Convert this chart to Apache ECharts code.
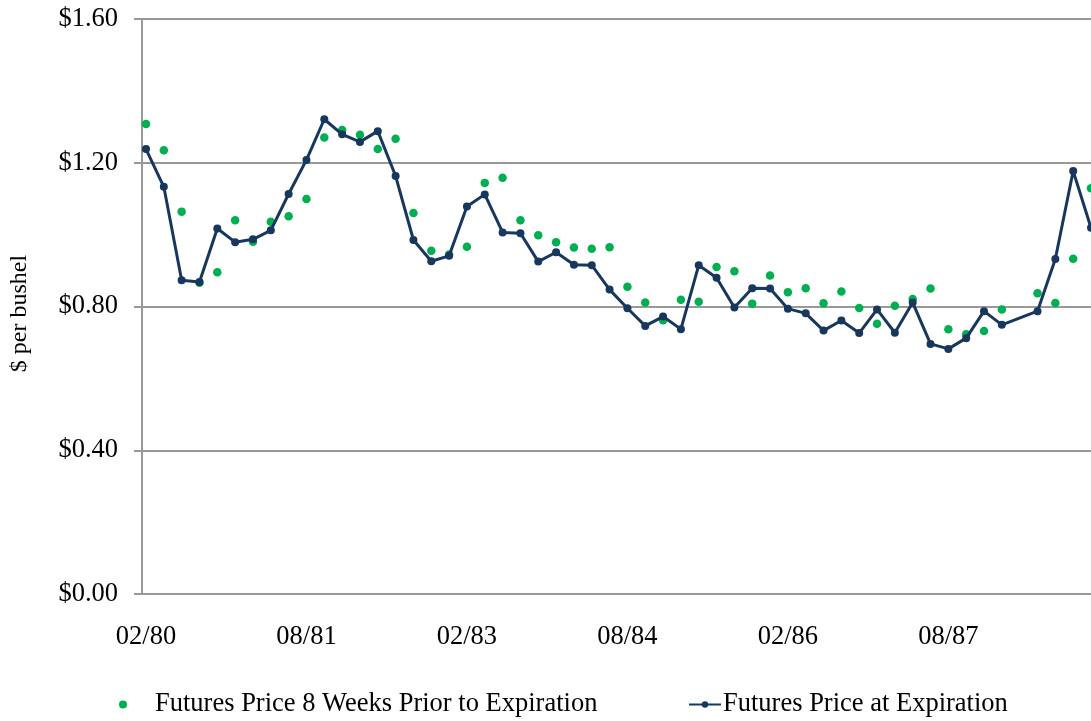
<!DOCTYPE html>
<html>
<head>
<meta charset="utf-8">
<script src="https://cdn.jsdelivr.net/npm/echarts@6/dist/echarts.min.js"></script>
<style>
  html, body { margin: 0; padding: 0; background: #fff; }
  #show_picture { width: 1091px; height: 721px; }
</style>
</head>
<body>
<div id="show_picture"></div>
<script>
// contract index (every 2 months from 02/80), tick labels shown every 9 contracts
const tickPositions = [0, 9, 18, 27, 36, 45];
const tickLabels = ['02/80', '08/81', '02/83', '08/84', '02/86', '08/87'];

const priorName = 'Futures Price 8 Weeks Prior to Expiration';
const expiryName = 'Futures Price at Expiration';

// $ per bushel, null = no contract
const priorPrice = [
    1.308, 1.235, 1.064, 0.866, 0.895, 1.040, 0.980, 1.036, 1.051, 1.099,
    1.270, 1.291, 1.278, 1.238, 1.267, 1.060, 0.955, 0.945, 0.966, 1.144,
    1.158, 1.040, 0.998, 0.979, 0.964, 0.961, 0.965, 0.855, 0.811, 0.762,
    0.819, 0.813, 0.910, 0.898, 0.808, 0.886, 0.840, 0.851, 0.809, 0.842,
    0.796, 0.752, 0.802, 0.821, 0.850, 0.737, 0.723, 0.732, 0.792, null,
    0.837, 0.810, 0.933, 1.129
];
const expiryPrice = [
    1.238, 1.133, 0.873, 0.868, 1.017, 0.979, 0.987, 1.012, 1.113, 1.208,
    1.321, 1.279, 1.258, 1.288, 1.163, 0.985, 0.926, 0.941, 1.078, 1.112,
    1.006, 1.004, 0.925, 0.951, 0.916, 0.915, 0.847, 0.795, 0.746, 0.772,
    0.737, 0.915, 0.880, 0.797, 0.851, 0.850, 0.794, 0.781, 0.733, 0.761,
    0.726, 0.792, 0.727, 0.811, 0.696, 0.682, 0.712, 0.787, 0.749, null,
    0.787, 0.932, 1.177, 1.019
];

const toPoints = arr => arr.map((v, i) => [i, v]).filter(p => p[1] !== null);

let myChart = echarts.init(document.getElementById('show_picture'));

const font = 'Liberation Serif';
const gray = '#999999';

let option = {
    animation: false,
    textStyle: { fontFamily: font, color: '#000' },
    grid: { left: 141, right: 0, top: 19, bottom: 127, containLabel: false },
    legend: [
        {
            data: [priorName],
            left: 119,
            top: 691,
            padding: 0,
            itemWidth: 8,
            itemHeight: 8,
            textStyle: { fontFamily: font, fontSize: 26.5, color: '#000', padding: [0, 0, 0, 23] }
        },
        {
            data: [expiryName],
            left: 688,
            top: 691,
            padding: 0,
            itemWidth: 32,
            itemHeight: 8,
            textStyle: { fontFamily: font, fontSize: 26.5, color: '#000', padding: [0, 0, 0, -3] }
        }
    ],
    xAxis: {
        type: 'value',
        min: -0.224,
        max: 53,
        splitLine: { show: false },
        axisLine: { show: true, onZero: false, lineStyle: { color: gray, width: 2 } },
        axisTick: { show: false },
        axisLabel: {
            customValues: tickPositions,
            formatter: v => tickLabels[tickPositions.indexOf(v)] || '',
            fontFamily: font,
            fontSize: 26.5,
            color: '#000',
            margin: 30
        }
    },
    yAxis: {
        type: 'value',
        min: 0,
        max: 1.6,
        interval: 0.4,
        name: '$ per bushel',
        nameLocation: 'middle',
        nameGap: 110,
        nameTextStyle: { fontFamily: font, fontSize: 24, color: '#000', padding: [0, 14, 0, 0] },
        axisLine: { show: true, onZero: false, lineStyle: { color: gray, width: 2 } },
        axisTick: { show: true, inside: false, length: 8, lineStyle: { color: gray, width: 2 } },
        splitLine: { show: true, lineStyle: { color: gray, width: 2 } },
        axisLabel: {
            formatter: v => '$' + v.toFixed(2),
            fontFamily: font,
            fontSize: 26.5,
            color: '#000',
            margin: 24
        }
    },
    series: [
        {
            name: expiryName,
            type: 'line',
            data: toPoints(expiryPrice),
            symbol: 'circle',
            symbolSize: 8,
            color: '#17375E',
            lineStyle: { color: '#17375E', width: 3 },
            itemStyle: { color: '#17375E' },
            clip: false
        },
        {
            name: priorName,
            type: 'scatter',
            data: toPoints(priorPrice),
            symbol: 'circle',
            symbolSize: 8.5,
            color: '#00B050',
            itemStyle: { color: '#00B050', opacity: 1 }
        }
    ]
};

option && myChart.setOption(option);
</script>
</body>
</html>
